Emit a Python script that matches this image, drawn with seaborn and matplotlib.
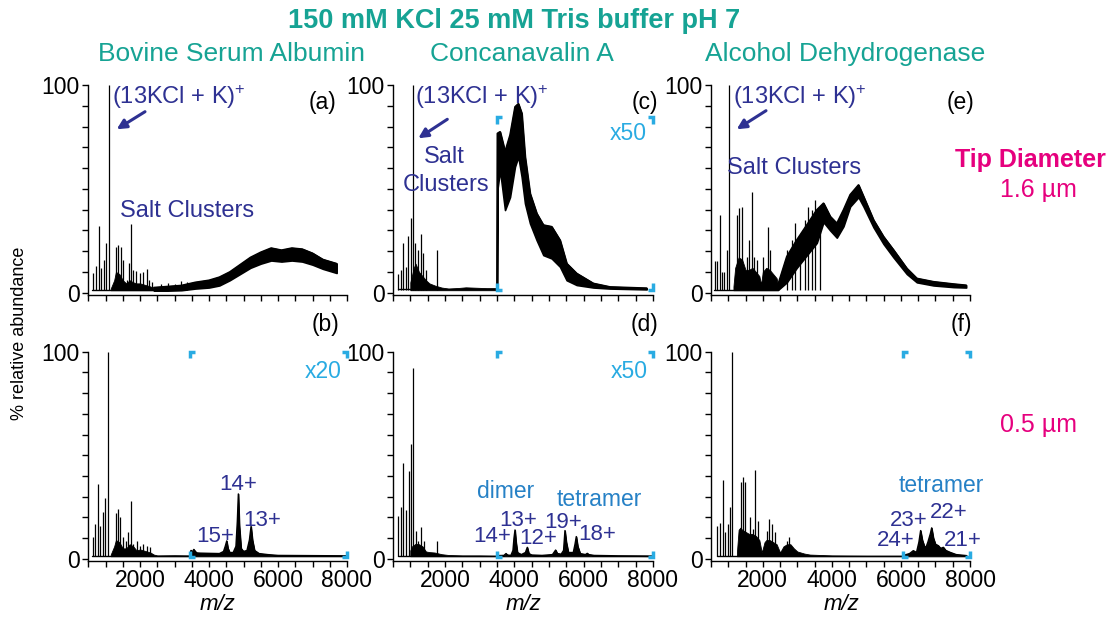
import numpy as np
import matplotlib
matplotlib.use("Agg")
import matplotlib.pyplot as plt
from matplotlib.patches import FancyArrowPatch
import seaborn as sns
import pandas as pd

# ---------------- data ----------------
# Panel (a) BSA, 1.6 um tip
a_stick_mz = [645, 723, 810, 877, 946, 1013, 1100, 1303, 1371, 1438, 1496, 1612, 1680, 1748,
              1806, 1883, 1999, 2096, 2193, 2270, 2338, 2600, 2800, 3000, 3200, 3350]
a_stick_h = [9.6, 12.9, 32.1, 11.7, 15.7, 23.8, 100, 22.1, 22.9, 22.1, 15.7, 6.0, 14.4, 33.0,
             10.9, 10.4, 9.3, 10.1, 11.2, 6.0, 5.2, 4.0, 4.5, 4.0, 5.5, 5.0]
a_dense_mz = [1150, 1250, 1300, 1400, 1500, 1600, 1700, 1800, 1900, 2000, 2100, 2200, 2300, 2400, 2450]
a_dense_hi = [2.0, 6.0, 10.0, 9.0, 6.0, 4.5, 6.0, 5.0, 4.5, 4.5, 4.0, 3.5, 3.0, 2.0, 1.3]
a_band_mz = [2400, 2800, 3200, 3600, 4000, 4300, 4600, 4900, 5200, 5500, 5800, 6100, 6400, 6700, 7000, 7300, 7700]
a_band_lo = [1.0, 1.0, 1.2, 2.0, 2.5, 3.5, 6.0, 9.0, 12.0, 14.0, 15.5, 15.0, 15.5, 15.0, 13.5, 11.5, 9.5]
a_band_hi = [2.5, 3.0, 3.5, 5.0, 6.0, 7.5, 10.0, 13.5, 17.0, 19.5, 21.5, 20.5, 21.5, 21.0, 19.0, 16.0, 14.0]

# Panel (c) Concanavalin A, 1.6 um tip (x50 region from 3500)
c_stick_mz = [653, 720, 797, 874, 942, 1019, 1086, 1144, 1230, 1307, 1375, 1452, 1760]
c_stick_h = [9.2, 10.9, 23.7, 12.5, 27.3, 35.8, 100, 23.7, 20.5, 28.4, 19.0, 10.9, 20.5]
c_dense_mz = [1000, 1100, 1150, 1250, 1350, 1450, 1550, 1700, 1900, 2100, 2400, 2600, 2900, 3200, 3500]
c_dense_hi = [5.0, 12.0, 14.0, 10.0, 8.0, 6.0, 4.5, 3.5, 2.5, 2.0, 2.3, 2.6, 2.4, 2.2, 2.2]
c_band_mz = [3500, 3510, 3587, 3731, 3875, 4019, 4115, 4211, 4307, 4451, 4643, 4836, 5076, 5316, 5508, 5797, 6278, 6759, 7817]
c_band_lo = [2.0, 49.5, 59.0, 39.8, 46.0, 60.7, 65.5, 55.8, 43.0, 33.4, 25.3, 18.1, 16.5, 12.5, 6.0, 3.7, 2.5, 2.0, 1.6]
c_band_hi = [2.5, 76.7, 77.5, 67.9, 75.9, 89.5, 91.0, 86.4, 65.5, 47.8, 38.2, 32.6, 31.8, 25.3, 14.1, 9.3, 4.5, 2.8, 2.2]

# Panel (e) Alcohol dehydrogenase, 1.6 um tip
e_stick_mz = [607, 684, 752, 820, 888, 955, 1032, 1245, 1322, 1390, 1535, 1612, 1680, 1748, 1825,
              2018, 2144, 2211, 2694, 2839, 2935, 3080, 3225, 3322, 3418, 3515, 3660]
e_stick_h = [15.4, 15.4, 37.4, 10.1, 10.1, 20.8, 100, 37.4, 40.7, 41.2, 17.4, 25.4, 48.6, 17.4, 15.8,
             17.4, 31.8, 20.5, 20.5, 25.4, 33.5, 27.1, 35.1, 41.5, 39.9, 44.7, 37.4]
e_dense_mz = [1150, 1200, 1300, 1400, 1500, 1600, 1700, 1800, 1900, 1950, 2000, 2100, 2200, 2300, 2400, 2450]
e_dense_hi = [3.0, 12.0, 17.0, 16.0, 11.0, 11.0, 12.0, 10.0, 8.0, 4.0, 10.0, 12.0, 11.0, 9.0, 7.0, 3.0]
e_band_mz = [2451, 2694, 2983, 3273, 3563, 3757, 3950, 4143, 4336, 4529, 4770, 4915, 5205, 5494, 5784, 6170, 6460, 6943, 7522, 7889]
e_band_lo = [1.5, 5.0, 12.0, 18.0, 24.0, 34.0, 30.0, 26.5, 32.0, 41.5, 46.0, 41.5, 31.5, 23.5, 17.0, 9.0, 5.0, 3.5, 2.7, 2.5]
e_band_hi = [4.5, 17.4, 25.4, 32.6, 39.9, 43.1, 36.7, 33.4, 39.9, 47.2, 51.9, 46.3, 35.0, 27.0, 20.6, 11.7, 6.9, 5.3, 4.2, 3.6]

# Panel (b) BSA, 0.5 um tip (x20 region from 3450)
b_stick_mz = [627, 704, 772, 839, 917, 994, 1081, 1294, 1361, 1429, 1516, 1593, 1661, 1729, 1806,
              1903, 2000, 2096, 2193, 2290]
b_stick_h = [10.3, 16.8, 35.9, 16.0, 22.5, 29.4, 100, 22.0, 24.0, 20.3, 10.3, 8.7, 12.8, 28.1, 7.1,
             8.7, 6.3, 7.1, 6.3, 5.5]
b_dense_mz = [1150, 1250, 1300, 1400, 1500, 1600, 1700, 1800, 1900, 2000, 2100, 2200, 2300, 2400, 2500, 3000, 3450]
b_dense_hi = [2.0, 6.0, 9.0, 8.0, 5.0, 5.0, 7.0, 6.0, 4.0, 4.5, 4.0, 3.5, 3.0, 2.0, 1.6, 1.7, 1.6]
b_prot_mz = [3450, 3480, 3500, 3560, 3600, 3650, 3750, 4000, 4300, 4420, 4470, 4513, 4550, 4600, 4700, 4780,
             4820, 4850, 4880, 4930, 5000, 5100, 5170, 5218, 5260, 5320, 5450, 5700, 6000, 8000]
b_prot_y = [1.5, 4.0, 3.0, 4.5, 3.5, 2.8, 2.7, 2.6, 2.5, 3.5, 6.0, 8.6, 5.0, 3.0, 3.0, 6.0,
            18.0, 31.3, 16.0, 5.0, 3.5, 4.0, 9.0, 15.6, 9.0, 4.0, 2.5, 2.0, 1.6, 1.4]

# Panel (d) Concanavalin A, 0.5 um tip (x50 region from 3500)
d_stick_mz = [654, 720, 797, 865, 951, 1019, 1086, 1153, 1230, 1307, 1384, 1760]
d_stick_h = [20.5, 25.2, 46.2, 23.3, 42.3, 55.3, 92.0, 13.6, 8.8, 15.5, 8.4, 8.4]
d_dense_mz = [1000, 1050, 1150, 1250, 1350, 1450, 1550, 1700, 1900, 2100, 2500, 3000, 3500]
d_dense_hi = [4.0, 6.0, 7.2, 7.0, 6.0, 3.5, 3.2, 3.0, 2.2, 1.8, 1.6, 1.6, 1.5]
d_prot_mz = [3500, 3700, 3760, 3800, 3900, 3960, 3990, 4019, 4050, 4090, 4200, 4320, 4374, 4420, 4500, 4800,
             5100, 5191, 5240, 5350, 5420, 5460, 5500, 5560, 5700, 5750, 5787, 5830, 5900, 6050, 6104, 6150,
             6300, 7000, 8000]
d_prot_y = [1.5, 1.6, 2.5, 1.8, 1.6, 4.0, 10.0, 13.9, 8.0, 3.0, 2.0, 3.0, 5.5, 2.5, 1.8, 1.6,
            2.0, 4.2, 2.5, 2.2, 4.0, 13.6, 8.0, 3.0, 3.0, 7.0, 10.7, 6.0, 2.5, 2.0, 2.6, 2.0,
            1.6, 1.4, 1.3]

# Panel (f) Alcohol dehydrogenase, 0.5 um tip (tetramer region from 6050)
f_stick_mz = [684, 752, 839, 916, 984, 1052, 1119, 1361, 1419, 1487, 1632, 1709, 1786, 1873,
              2114, 2192, 2259, 2356, 2694, 2771]
f_stick_h = [16.0, 17.1, 38.1, 12.8, 16.8, 25.2, 100, 37.0, 39.4, 37.0, 20.0, 14.4, 42.9, 18.4,
             13.6, 19.2, 16.8, 12.8, 8.8, 10.4]
f_dense_mz = [1250, 1300, 1350, 1400, 1500, 1600, 1700, 1800, 1900, 1970, 2050, 2100, 2200, 2300, 2400,
              2500, 2600, 2700, 2800, 2900, 3000, 3100, 3200, 3366, 4000, 5000, 6050]
f_dense_hi = [3.0, 14.0, 15.0, 14.0, 13.0, 12.0, 12.0, 11.0, 9.0, 3.0, 8.0, 9.0, 9.0, 8.0, 7.0,
              3.0, 6.0, 7.0, 7.0, 5.0, 3.5, 3.0, 2.5, 2.0, 1.6, 1.5, 1.5]
f_prot_mz = [6050, 6250, 6358, 6450, 6520, 6570, 6620, 6680, 6725, 6780, 6850, 6890, 6940, 7000, 7083,
             7150, 7228, 7300, 7421, 7600, 7904]
f_prot_y = [1.5, 2.5, 3.9, 3.0, 8.0, 13.6, 9.0, 6.0, 5.5, 8.0, 12.0, 14.9, 10.0, 7.0, 6.3,
            5.0, 5.5, 4.0, 3.1, 2.0, 1.5]

x_ticks = list(range(500, 8001, 500))
x_labeled = [2000, 4000, 6000, 8000]
y_ticks = list(range(0, 101, 10))
proteins = ["Bovine Serum Albumin", "Concanavalin A", "Alcohol Dehydrogenase"]

# ---------------- style ----------------
sns.set_theme(style="ticks")
plt.rcParams["font.family"] = ["Liberation Sans", "DejaVu Sans"]
plt.rcParams["mathtext.fontset"] = "custom"
plt.rcParams["mathtext.rm"] = "Liberation Sans"
plt.rcParams["mathtext.it"] = "Liberation Sans:italic"
plt.rcParams["mathtext.default"] = "regular"
for k in ("text.color", "axes.labelcolor", "xtick.color", "ytick.color", "axes.edgecolor"):
    plt.rcParams[k] = "black"

W, H = 1114, 617
fig = plt.figure(figsize=(W / 100, H / 100), dpi=100)

DARKBLUE = "#2e3192"
MIDBLUE = "#2681c6"
LIGHTBLUE = "#29abe2"
TEAL = "#16a394"
MAGENTA = "#e6007e"
FS = 16.5

def fr(x, y):
    return (x / W, 1 - y / H)

col_x = [(88.3, 347.0), (393.0, 653.0), (711.0, 970.0)]
row_y = [(85.0, 295.0), (351.7, 561.0)]
YLIM = (-1.1, 100)

axes = {}
for ci, (x0, x1) in enumerate(col_x):
    for ri, (ytop, ybot) in enumerate(row_y):
        ax = fig.add_axes([x0 / W, 1 - ybot / H, (x1 - x0) / W, (ybot - ytop) / H])
        ax.set_xlim(500, 8000)
        ax.set_ylim(*YLIM)
        ax.set_xticks(x_ticks)
        if ri == 1:
            ax.set_xticklabels([str(t) if t in x_labeled else "" for t in x_ticks], fontsize=FS)
        else:
            ax.set_xticklabels([""] * len(x_ticks))
        ax.set_yticks(y_ticks)
        ax.set_yticklabels([str(t) if t in (0, 100) else "" for t in y_ticks], fontsize=FS)
        ax.tick_params(axis="both", length=4, width=1, color="black", labelcolor="black", pad=2)
        for s in ("top", "right"):
            ax.spines[s].set_visible(False)
        for s in ("left", "bottom"):
            ax.spines[s].set_color("black")
            ax.spines[s].set_linewidth(1)
        ax.set_facecolor("white")
        axes[(ri, ci)] = ax

BASE = 1.2

def sticks(ax, mz, h):
    ax.vlines(mz, BASE, h, color="black", lw=0.9)

def dense(ax, mz, hi):
    ax.fill_between(mz, BASE, hi, color="black", lw=0.6, edgecolor="black")

def band(ax, mz, lo, hi):
    ax.fill_between(mz, lo, hi, color="black", lw=1.2, edgecolor="black")
    df = pd.DataFrame({"mz": mz, "v": hi})
    sns.lineplot(data=df, x="mz", y="v", ax=ax, color="black", lw=1.2, legend=False)

def profile(ax, mz, y):
    ax.fill_between(mz, BASE, y, color="black", lw=0.8, edgecolor="black")
    df = pd.DataFrame({"mz": mz, "v": y})
    sns.lineplot(data=df, x="mz", y="v", ax=ax, color="black", lw=1.0, legend=False)

def baseline(ax, x0, x1, lvl=1.5):
    sns.lineplot(x=[x0, x1], y=[lvl, lvl], ax=ax, color="black", lw=1.0, legend=False)

def brackets(ax, x0, x1, y0, y1, dx=150, dy=3.2):
    kw = dict(color=LIGHTBLUE, lw=2.5, clip_on=False, solid_capstyle="butt", solid_joinstyle="miter")
    ax.plot([x0, x0, x0 + dx], [y1 - dy, y1, y1], **kw)
    ax.plot([x1 - dx, x1, x1], [y1, y1, y1 - dy], **kw)
    ax.plot([x0, x0, x0 + dx], [y0 + dy, y0, y0], **kw)
    ax.plot([x1 - dx, x1, x1], [y0, y0, y0 + dy], **kw)

# (a)
ax = axes[(0, 0)]
baseline(ax, 600, 2400)
dense(ax, a_dense_mz, a_dense_hi)
sticks(ax, a_stick_mz, a_stick_h)
band(ax, a_band_mz, a_band_lo, a_band_hi)
# (c)
ax = axes[(0, 1)]
baseline(ax, 640, 3500, 1.8)
dense(ax, c_dense_mz, c_dense_hi)
sticks(ax, c_stick_mz, c_stick_h)
band(ax, c_band_mz, c_band_lo, c_band_hi)
brackets(ax, 3500, 8000, 1.3, 84.5)
# (e)
ax = axes[(0, 2)]
baseline(ax, 600, 2450)
dense(ax, e_dense_mz, e_dense_hi)
sticks(ax, e_stick_mz, e_stick_h)
band(ax, e_band_mz, e_band_lo, e_band_hi)
# (b)
ax = axes[(1, 0)]
baseline(ax, 620, 3450)
dense(ax, b_dense_mz, b_dense_hi)
sticks(ax, b_stick_mz, b_stick_h)
profile(ax, b_prot_mz, b_prot_y)
brackets(ax, 3450, 8000, 0.6, 100)
# (d)
ax = axes[(1, 1)]
baseline(ax, 640, 3500)
dense(ax, d_dense_mz, d_dense_hi)
sticks(ax, d_stick_mz, d_stick_h)
profile(ax, d_prot_mz, d_prot_y)
brackets(ax, 3500, 8000, 0.6, 100)
# (f)
ax = axes[(1, 2)]
baseline(ax, 680, 6050)
dense(ax, f_dense_mz, f_dense_hi)
sticks(ax, f_stick_mz, f_stick_h)
profile(ax, f_prot_mz, f_prot_y)
brackets(ax, 6050, 8000, 0.6, 100)

for ax in axes.values():
    ax.set_xlabel("")
    ax.set_ylabel("")

# ---------------- text ----------------
def ftext(x, y, s, **kw):
    kw.setdefault("va", "center")
    kw.setdefault("ha", "center")
    fig.text(*fr(x, y), s, **kw)

ftext(514, 21, "150 mM KCl 25 mM Tris buffer pH 7", fontsize=19.5, fontweight="bold", color=TEAL)
for xc, name in zip([232, 522, 845], proteins):
    ftext(xc, 54, name, fontsize=19, color=TEAL)

ftext(20, 333, "% relative abundance", fontsize=13, rotation=90)
for xc in [218, 523, 841]:
    ftext(xc, 604, "m/z", fontsize=16, fontstyle="italic")

ftext(1030, 160, "Tip Diameter", fontsize=18, fontweight="bold", color=MAGENTA)
ftext(1038, 190, "1.6 µm", fontsize=18, color=MAGENTA)
ftext(1038, 425, "0.5 µm", fontsize=18, color=MAGENTA)

for (x, y, s) in [(323, 102, "(a)"), (645, 102, "(c)"), (961, 102, "(e)"),
                  (325, 325, "(b)"), (645, 325, "(d)"), (961, 325, "(f)")]:
    ftext(x, y, s, fontsize=FS)

ion = r"(13KCl + K)$^{+}$"
for x in [111.7, 415, 732.7]:
    ftext(x, 97, ion, fontsize=17, color=DARKBLUE, ha="left")

for (xs, ys, xe, ye) in [(145, 111.7, 116.7, 129.3), (447.3, 119.3, 418.3, 138.3), (766, 110.7, 736.7, 129.3)]:
    arr = FancyArrowPatch(fr(xs, ys), fr(xe, ye), transform=fig.transFigure,
                          arrowstyle="-|>", color=DARKBLUE, lw=2.2, mutation_scale=14,
                          shrinkA=0, shrinkB=0)
    fig.add_artist(arr)

ftext(187, 211, "Salt Clusters", fontsize=17, color=DARKBLUE)
ftext(444, 157, "Salt", fontsize=17, color=DARKBLUE)
ftext(446, 185, "Clusters", fontsize=17, color=DARKBLUE)
ftext(794, 168, "Salt Clusters", fontsize=17, color=DARKBLUE)

ftext(628, 134, "x50", fontsize=FS, color=LIGHTBLUE)
ftext(323, 372, "x20", fontsize=FS, color=LIGHTBLUE)
ftext(629, 372, "x50", fontsize=FS, color=LIGHTBLUE)

ftext(506, 492, "dimer", fontsize=FS, color=MIDBLUE)
ftext(599, 499, "tetramer", fontsize=FS, color=MIDBLUE)
ftext(941, 486, "tetramer", fontsize=FS, color=MIDBLUE)

for (x, y, s) in [(238.5, 485, "14+"), (262, 520, "13+"), (215.5, 536, "15+"),
                  (518, 520, "13+"), (563.5, 522, "19+"), (491.7, 537, "14+"),
                  (538, 539, "12+"), (597, 534, "18+"),
                  (909, 520, "23+"), (948.5, 512, "22+"), (896, 540, "24+"), (963, 540, "21+")]:
    ftext(x, y, s, fontsize=16, color=DARKBLUE)

fig.savefig("out.png", dpi=100, facecolor="white")
